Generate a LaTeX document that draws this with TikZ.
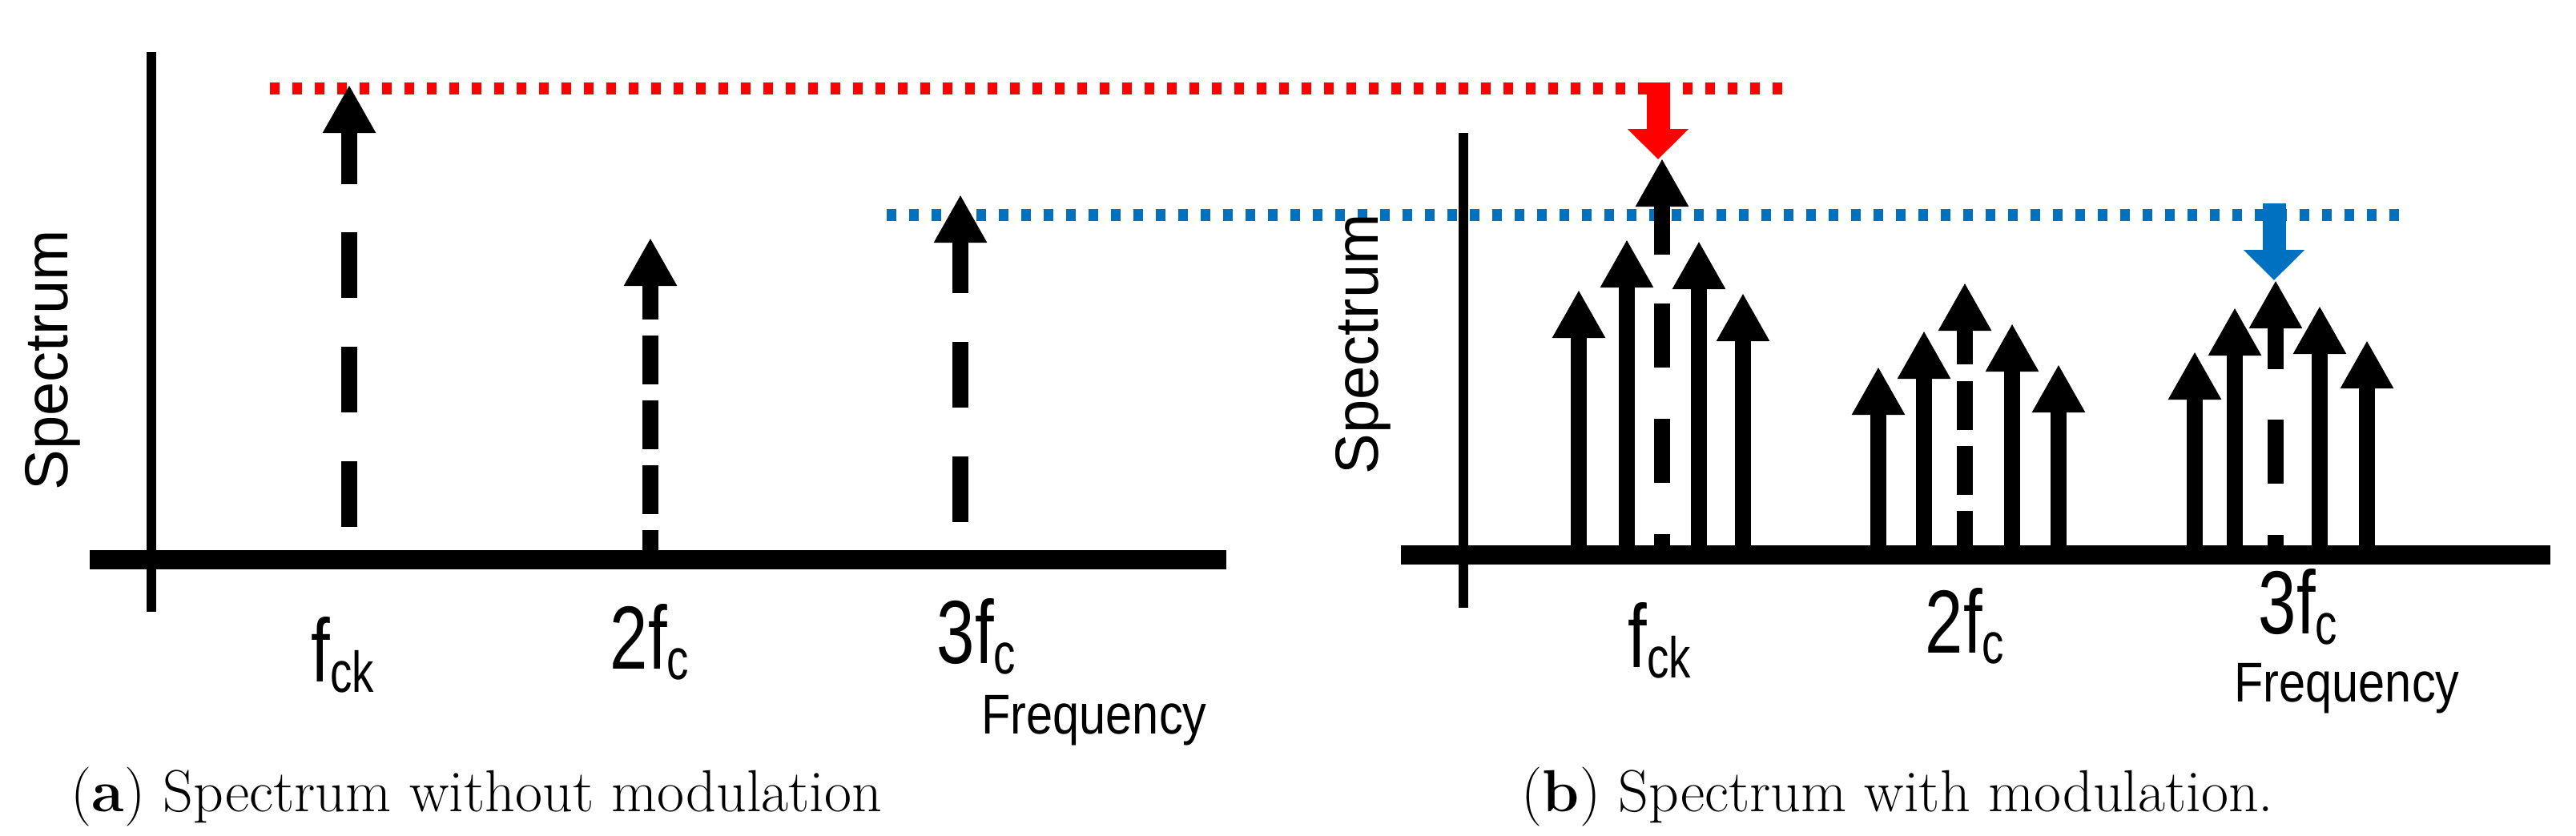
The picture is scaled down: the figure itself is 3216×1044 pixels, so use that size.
\documentclass[tikz,border=0pt]{standalone}
\usepackage{fontspec}
\newfontfamily\sans{Liberation Sans}
\usetikzlibrary{arrows.meta}
\definecolor{myred}{RGB}{255,0,0}
\definecolor{myblue}{RGB}{0,112,192}
\newcommand{\sbs}[1]{\raisebox{-0.12em}{\fontsize{72}{76}\selectfont #1}}
\begin{document}
\begin{tikzpicture}[x=1pt,y=-1pt,
  axis/.style={line width=#1, black},
  spk/.style={line width=20pt, -{Triangle[width=62pt 0 0,length=60pt 0 0]}},
  dsh/.style={line width=20pt, dash pattern=#1},
  dotl/.style={line width=15pt, dash pattern=on 12pt off 16pt},
  bigdown/.style={line width=29pt, -{Triangle[width=74pt 0 0,length=38pt 0 0]}},
  lab/.style={font=\sans\fontsize{112}{116}\selectfont, inner sep=0pt, xscale=0.76},
  small/.style={font=\sans\fontsize{70}{74}\selectfont, inner sep=0pt, xscale=0.85},
  spec/.style={font=\sans\fontsize{76}{80}\selectfont, inner sep=0pt, rotate=90},
  captext/.style={font=\fontsize{74}{80}\selectfont, inner sep=0pt}]
\useasboundingbox (0,0) rectangle (3216,1044);
\fill[white] (0,0) rectangle (3216,1044);
% ---------- left panel ----------
\coordinate (LyT) at (189,65); \coordinate (LyB) at (189,764);
\coordinate (LxL) at (112,699); \coordinate (LxR) at (1531,699);
\draw[axis=12pt] (LyT) -- (LyB);
\draw[axis=24pt] (LxL) -- (LxR);
% red / blue level lines
\coordinate (R1) at (337,110); \coordinate (R2) at (2228,110);
\coordinate (B1) at (1107,268); \coordinate (B2) at (3006,268);
\draw[dotl, myred] (R1) -- (R2);
\draw[dotl, myblue] (B1) -- (B2);
% fck
\coordinate (a1s) at (436,230); \coordinate (a1t) at (436,106);
\draw[spk] (a1s) -- (a1t);
\coordinate (a1d) at (436,290); \coordinate (a1b) at (436,658);
\draw[dsh=on 82pt off 61pt] (a1d) -- (a1b);
% 2fc
\coordinate (a2s) at (812,399); \coordinate (a2t) at (812,297);
\draw[spk] (a2s) -- (a2t);
\coordinate (a2d) at (812,419); \coordinate (a2b) at (812,697);
\draw[dsh=on 61pt off 20pt] (a2d) -- (a2b);
% 3fc
\coordinate (a3s) at (1199,366); \coordinate (a3t) at (1199,243);
\draw[spk] (a3s) -- (a3t);
\coordinate (a3d) at (1199,427); \coordinate (a3b) at (1199,652);
\draw[dsh=on 82pt off 61pt] (a3d) -- (a3b);
% labels
\node[lab] (lf1) at (428,818) {f\sbs{ck}};
\node[lab] (lf2) at (811,802) {2f\sbs{c}};
\node[lab] (lf3) at (1219,795) {3f\sbs{c}};
\node[small] (lfr) at (1366,900) {Frequency};
\node[spec] (lsp) at (66,450) {Spectrum};
% ---------- right panel ----------
\coordinate (RyT) at (1827,166); \coordinate (RyB) at (1827,759);
\coordinate (RxL) at (1749,693); \coordinate (RxR) at (3184,693);
\draw[axis=12pt] (RyT) -- (RyB);
\draw[axis=24pt] (RxL) -- (RxR);
% group 1
\foreach \x/\t [count=\i] in {1971/362,2031/299,2121/301,2176/366}{
  \coordinate (g1b\i) at (\x,683); \coordinate (g1t\i) at (\x,\t);
  \draw[spk] (g1b\i) -- (g1t\i);}
\coordinate (c1s) at (2075,318); \coordinate (c1t) at (2075,198);
\draw[spk] (c1s) -- (c1t);
\coordinate (c1d) at (2075,379); \coordinate (c1b) at (2075,683);
\draw[dsh=on 80pt off 64pt] (c1d) -- (c1b);
% group 2
\foreach \x/\t [count=\i] in {2345/458,2402/413,2512/404,2570/455}{
  \coordinate (g2b\i) at (\x,683); \coordinate (g2t\i) at (\x,\t);
  \draw[spk] (g2b\i) -- (g2t\i);}
\coordinate (c2s) at (2453,455); \coordinate (c2t) at (2453,353);
\draw[spk] (c2s) -- (c2t);
\coordinate (c2d) at (2453,476); \coordinate (c2b) at (2453,683);
\draw[dsh=on 61pt off 20pt] (c2d) -- (c2b);
% group 3
\foreach \x/\t [count=\i] in {2740/439,2790/384,2896/382,2955/425}{
  \coordinate (g3b\i) at (\x,683); \coordinate (g3t\i) at (\x,\t);
  \draw[spk] (g3b\i) -- (g3t\i);}
\coordinate (c3s) at (2841,461); \coordinate (c3t) at (2841,350);
\draw[spk] (c3s) -- (c3t);
\coordinate (c3d) at (2841,524); \coordinate (c3b) at (2841,683);
\draw[dsh=on 80pt off 64pt] (c3d) -- (c3b);
% down arrows
\coordinate (rd1) at (2070,103); \coordinate (rd2) at (2070,199);
\draw[bigdown, myred] (rd1) -- (rd2);
\coordinate (bd1) at (2839,254); \coordinate (bd2) at (2839,350);
\draw[bigdown, myblue] (bd1) -- (bd2);
% labels
\node[lab] (rf1) at (2072,800) {f\sbs{ck}};
\node[lab] (rf2) at (2453,782) {2f\sbs{c}};
\node[lab] (rf3) at (2869,758) {3f\sbs{c}};
\node[small] (rfr) at (2930,860) {Frequency};
\node[spec] (rsp) at (1702,430) {Spectrum};
% captions
\node[captext] (ca) at (595,995) {(\textbf{a}) Spectrum without modulation};
\node[captext] (cb) at (2369,995) {(\textbf{b}) Spectrum with modulation.};
\end{tikzpicture}
\end{document}
